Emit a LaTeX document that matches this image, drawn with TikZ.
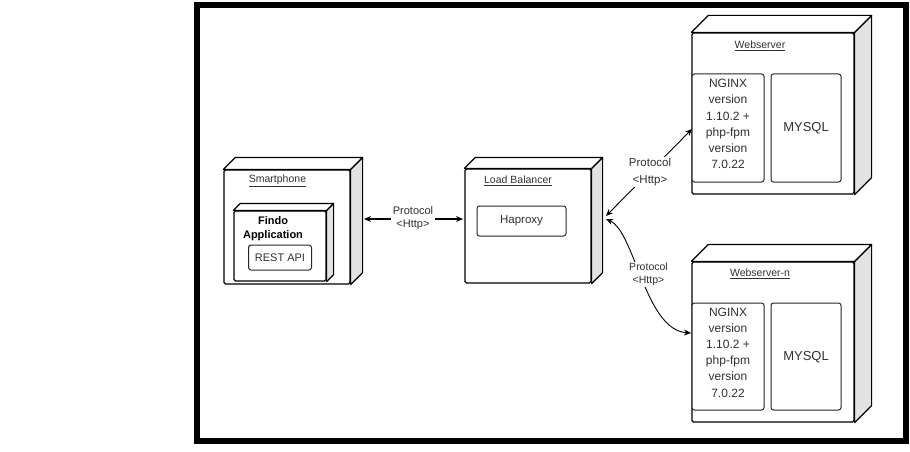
\documentclass[tikz,border=0pt]{standalone}
\usepackage{fontspec}
\setmainfont{Liberation Sans}
\usetikzlibrary{calc,arrows.meta}
\definecolor{sidegray}{HTML}{E2E2E2}
\definecolor{txtgray}{HTML}{303030}
\newcommand\mycube[2]{%
 \draw[line width=1.2pt, fill=sidegray, line join=round] (#1.north east) -- ++(#2,-#2) -- ($(#1.south east)+(#2,-#2)$) -- (#1.south east) -- cycle;
 \draw[line width=1.2pt, fill=white, line join=round] (#1.north west) -- ++(#2,-#2) -- ($(#1.north east)+(#2,-#2)$) -- (#1.north east) -- cycle;
}
\begin{document}
\begin{tikzpicture}[x=1pt,y=-1pt,
  face/.style={draw=black, line width=1.2pt, fill=white, rounded corners=1.5pt, inner sep=0pt},
  ibox/.style={draw=black!85, line width=1pt, fill=white, rounded corners=2.5pt, inner sep=0pt},
  lbl/.style={text=txtgray, inner sep=1pt, align=center},
  title/.style={lbl, font=\fontsize{10.5}{12}\selectfont},
  big/.style={lbl, font=\fontsize{12}{16.2}\selectfont},
  arr/.style={{Stealth[length=7pt,width=6pt]}-{Stealth[length=7pt,width=6pt]}, black, line width=0.9pt},
]
\useasboundingbox (0,0) rectangle (910,452);
\fill[white] (0,0) rectangle (910,452);
\draw[line width=6pt] (197,5) rectangle (906,441);

% Smartphone
\node[face, minimum width=126pt, minimum height=114pt] (sp) at (287,227) {};
\mycube{sp}{12}
\node[title] (sptitle) at (277.5,181) {\underline{Smartphone}};
\node[face, minimum width=92pt, minimum height=70pt] (fa) at (280,246) {};
\mycube{fa}{7}
\node[lbl, font=\bfseries\fontsize{11}{13.7}\selectfont, text=black] (fatext) at (273,229) {Findo\\Application};
\node[ibox, minimum width=63pt, minimum height=25pt, font=\fontsize{11}{12}\selectfont, text=txtgray] (rest) at (280,257.5) {REST API};

% Load balancer
\node[face, minimum width=126pt, minimum height=114pt] (lb) at (528,226) {};
\mycube{lb}{11}
\node[title] (lbtitle) at (518,181) {\underline{Load Balancer}};
\node[ibox, minimum width=89pt, minimum height=30pt, font=\fontsize{11.5}{12}\selectfont, text=txtgray] (hap) at (521.5,221) {Haproxy};

% Webserver
\node[face, minimum width=162pt, minimum height=161pt] (ws1) at (773,113.5) {};
\mycube{ws1}{17}
\node[title] (ws1title) at (760,46) {\underline{Webserver}};
\node[ibox, minimum width=72pt, minimum height=108pt] (ng1) at (728,128) {};
\node[big] (ng1t) at (728,124) {NGINX\\version\\1.10.2 +\\php-fpm\\version\\7.0.22};
\node[ibox, minimum width=70pt, minimum height=108pt] (my1) at (806,128) {};
\node[big, font=\fontsize{13}{16}\selectfont] (my1t) at (806,128) {MYSQL};

% Webserver-n
\node[face, minimum width=162pt, minimum height=160pt] (ws2) at (773,342) {};
\mycube{ws2}{17}
\node[title] (ws2title) at (760,274) {\underline{Webserver-n}};
\node[ibox, minimum width=72pt, minimum height=107pt] (ng2) at (728,356.5) {};
\node[big] (ng2t) at (728,352.5) {NGINX\\version\\1.10.2 +\\php-fpm\\version\\7.0.22};
\node[ibox, minimum width=70pt, minimum height=107pt] (my2) at (806,356.5) {};
\node[big, font=\fontsize{13}{16}\selectfont] (my2t) at (806,357) {MYSQL};

% connectors
\coordinate (a1) at (364,219);
\coordinate (a2) at (463,219);
\draw[arr, line width=2pt] (a1) -- (a2);
\node[lbl, fill=white, font=\fontsize{11}{13}\selectfont, inner sep=1.5pt] (p1) at (413,218) {Protocol\\<Http>};

\coordinate (b1) at (606,216);
\coordinate (b2) at (692,129);
\draw[arr] (b1) -- (b2);
\node[lbl, fill=white, font=\fontsize{11.5}{16.5}\selectfont, inner sep=1pt] (p2) at (650,172) {Protocol\\<Http>};

\coordinate (c1) at (606,219);
\coordinate (c2) at (691,333);
\draw[arr] (c1) .. controls (635,232) and (645,330) .. (c2);
\node[lbl, fill=white, font=\fontsize{10.5}{13.5}\selectfont, inner sep=1pt] (p3) at (648.5,274.5) {Protocol\\<Http>};
\end{tikzpicture}
\end{document}
